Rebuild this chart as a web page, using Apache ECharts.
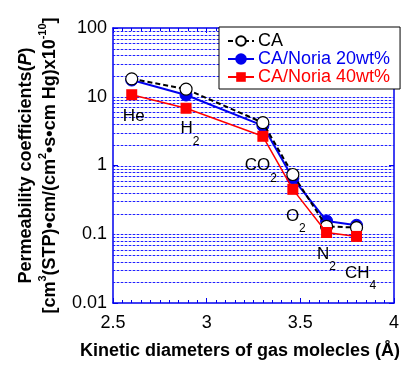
<!DOCTYPE html>
<html>
<head>
<meta charset="utf-8">
<script src="https://cdn.jsdelivr.net/npm/echarts@6/dist/echarts.min.js"></script>
<style>html,body{margin:0;padding:0;background:#fff;}#c{width:407px;height:365px;}</style>
</head>
<body>
<div id="c"></div>
<script>
// ---- data ----
const gasNames = ['He', 'H2', 'CO2', 'O2', 'N2', 'CH4'];
const diameters = [2.60, 2.89, 3.30, 3.46, 3.64, 3.80];
const caValues = [18.2, 12.9, 4.2, 0.74, 0.13, 0.125];
const noria20Values = [17.5, 10.6, 3.8, 0.65, 0.156, 0.135];
const noria40Values = [10.7, 6.8, 2.66, 0.45, 0.106, 0.093];
const seriesNames = ['CA', 'CA/Noria 20wt%', 'CA/Noria 40wt%'];
const xTicks = [2.5, 3, 3.5, 4];
const yTicks = [0.01, 0.1, 1, 10, 100];

// ---- styling / layout ----
const FONT = 'Liberation Sans, Arial, Helvetica, sans-serif';
const BLUE = '#0000ee';
const GRID_DARK = '#2020ff';
const GRID_LIGHT = '#b8b8ff';
// label offsets relative to the red marker [dx, dy of main text centre]
const labelOffsets = [[2, 22], [4, 21], [-2, 30], [3, 27], [0, 22], [4, 37]];

function gasLabel(name) {
  const m = name.match(/^([A-Za-z]+?)(\d*)$/);
  const main = m[1], sub = m[2];
  return sub ? '{m|' + main + '}{s|' + sub + '}' : '{m|' + main + '}';
}

// log grid line positions (axis decoration): 1..9 x 10^e inside the plot
const gridVals = [];
for (let e = -2; e < 2; e++) {
  for (let k = 1; k <= 9; k++) {
    const v = k * Math.pow(10, e);
    if (v > 0.01) gridVals.push(v);
  }
}

const pairs = arr => diameters.map((d, i) => [d, arr[i]]);

const chart = echarts.init(document.getElementById('c'), null, {renderer: 'canvas'});

const axisLineStyle = {show: true, lineStyle: {color: BLUE, width: 1.5}};

const option = {
  animation: false,
  backgroundColor: '#fff',
  textStyle: {fontFamily: FONT},
  grid: {left: 113, right: 13, top: 28, bottom: 60, containLabel: false},
  legend: {
    orient: 'vertical',
    left: 219, top: 27,
    padding: [5, 10, 3, 8],
    itemGap: 0,
    itemWidth: 26, itemHeight: 12,
    backgroundColor: '#fff',
    borderColor: '#000', borderWidth: 1, borderRadius: 0,
    textStyle: {fontSize: 18, fontFamily: FONT, lineHeight: 18, padding: [0, 0, 0, -1]},
    data: [
      {name: seriesNames[0], textStyle: {color: '#000'}},
      {name: seriesNames[1], textStyle: {color: '#0000ee'}},
      {name: seriesNames[2], textStyle: {color: '#ff0000'}}
    ]
  },
  xAxis: [{
    type: 'value', min: 2.5, max: 4, interval: 0.5,
    axisLine: axisLineStyle,
    axisTick: {show: true, inside: true, length: 5, lineStyle: {color: BLUE, width: 1}},
    minorTick: {show: true, splitNumber: 10, length: 3, lineStyle: {color: BLUE, width: 1}},
    splitLine: {show: false},
    axisLabel: {fontSize: 18, color: '#000', margin: 11, fontFamily: FONT,
      formatter: v => xTicks.indexOf(v) >= 0 ? String(v) : ''},
    name: 'Kinetic diameters of gas molecles (Å)',
    nameLocation: 'middle', nameGap: 39,
    nameTextStyle: {fontSize: 18, fontWeight: 'bold', color: '#000', fontFamily: FONT, padding: [0, 27, 0, 0]}
  }, {
    type: 'value', min: 2.5, max: 4, interval: 0.5, position: 'top',
    axisLine: axisLineStyle,
    axisTick: {show: true, inside: true, length: 5, lineStyle: {color: BLUE, width: 1}},
    minorTick: {show: true, splitNumber: 10, length: 3, lineStyle: {color: BLUE, width: 1}},
    splitLine: {show: false},
    axisLabel: {show: false}
  }],
  yAxis: [{
    type: 'log', logBase: 10, min: 0.01, max: 100,
    axisLine: axisLineStyle,
    axisTick: {show: true, inside: true, length: 5, lineStyle: {color: BLUE}},
    splitLine: {show: false},
    axisLabel: {fontSize: 18, color: '#000', margin: 6, fontFamily: FONT,
      formatter: v => {
        for (const t of yTicks) if (Math.abs(v - t) / t < 1e-6) return String(t);
        return '';
      }},
    name: '{a|Permeability coefficients(}{ai|P}{a|)}\n{b|[cm}{bs|3}{b|(STP)•cm/(cm}{bs|2}{b|•s•cm Hg)x10}{bs|-10}{b|]}',
    nameLocation: 'middle', nameRotate: 90, nameGap: 50,
    nameTextStyle: {
      color: '#000', fontFamily: FONT,
      rich: {
        a: {fontSize: 18, fontWeight: 'bold', lineHeight: 22, fontFamily: FONT, color: '#000'},
        ai: {fontSize: 18, fontWeight: 'bold', fontStyle: 'italic', lineHeight: 22, fontFamily: FONT, color: '#000'},
        b: {fontSize: 18, fontWeight: 'bold', lineHeight: 26, verticalAlign: 'middle', fontFamily: FONT, color: '#000'},
        bs: {fontSize: 11, fontWeight: 'bold', lineHeight: 10, verticalAlign: 'top', fontFamily: FONT, color: '#000'}
      }
    }
  }, {
    type: 'log', logBase: 10, min: 0.01, max: 100, position: 'right',
    axisLine: axisLineStyle,
    axisTick: {show: true, inside: true, length: 5, lineStyle: {color: BLUE}},
    splitLine: {show: false},
    axisLabel: {show: false}
  }],
  series: [
    {
      name: 'logGrid', type: 'custom', silent: true, z: 1,
      data: gridVals.map(v => [v]),
      encode: {y: 0},
      renderItem: (params, api) => {
        const v = api.value(0);
        const p1 = api.coord([2.5, v]);
        const p2 = api.coord([4, v]);
        const y = Math.round(p1[1]) + 0.5;
        return {
          type: 'group',
          children: [
            {type: 'line', shape: {x1: p1[0], y1: y, x2: p2[0], y2: y},
             style: {stroke: GRID_LIGHT, lineWidth: 1}},
            {type: 'line', shape: {x1: p1[0], y1: y, x2: p2[0], y2: y},
             style: {stroke: GRID_DARK, lineWidth: 1, lineDash: [2, 2]}}
          ]
        };
      }
    },
    {
      name: seriesNames[1], type: 'line', data: pairs(noria20Values),
      symbol: 'circle', symbolSize: 12,
      lineStyle: {color: '#0000ee', width: 2},
      itemStyle: {color: '#0000ee', borderColor: '#0000ee', borderWidth: 1},
      z: 3
    },
    {
      name: seriesNames[0], type: 'line', data: pairs(caValues),
      symbol: 'circle', symbolSize: 12,
      lineStyle: {color: '#000', width: 2, type: [5, 3]},
      itemStyle: {color: '#fff', borderColor: '#000', borderWidth: 1.2},
      z: 4
    },
    {
      name: seriesNames[2], type: 'line', data: pairs(noria40Values).map((p, i) => {
        const hasSub = /\d/.test(gasNames[i]);
        const off = labelOffsets[i];
        return {
          value: p,
          label: {
            show: true, position: 'inside',
            offset: [off[0], off[1] + (hasSub ? 12 : 0)],
            formatter: gasLabel(gasNames[i])
          }
        };
      }),
      symbol: 'rect', symbolSize: 11,
      lineStyle: {color: '#ff0000', width: 1.5},
      itemStyle: {color: '#ff0000'},
      label: {
        show: true, color: '#000', fontFamily: FONT,
        rich: {
          m: {fontSize: 17, lineHeight: 18, verticalAlign: 'top', color: '#000', fontFamily: FONT},
          s: {fontSize: 12, lineHeight: 42, verticalAlign: 'middle', color: '#000', fontFamily: FONT}
        }
      },
      z: 5
    }
  ]
};
chart.setOption(option);
</script>
</body>
</html>
